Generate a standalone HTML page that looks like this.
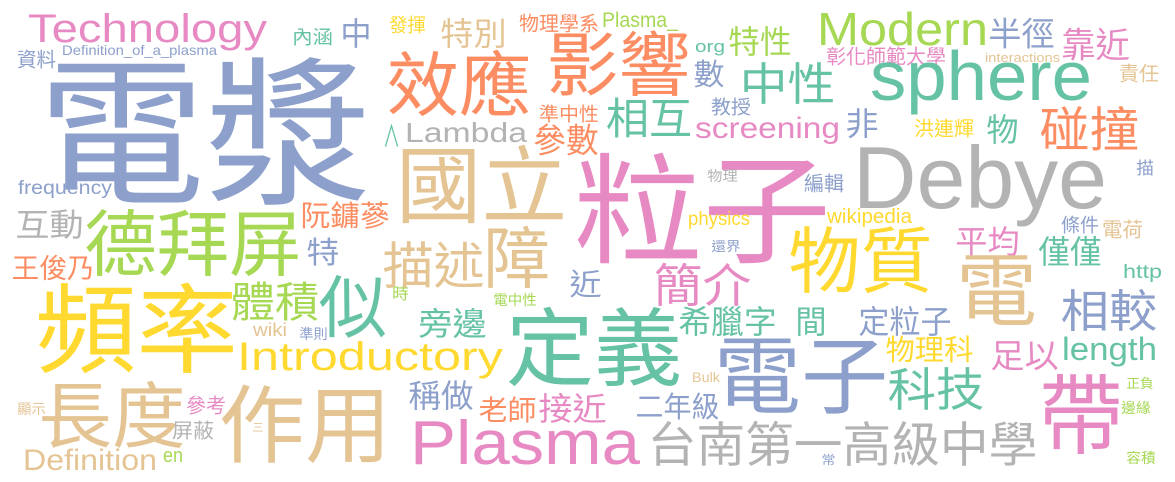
<!DOCTYPE html>
<html><head><meta charset="utf-8">
<style>
html,body{margin:0;padding:0;background:#fff;}
svg{display:block;}
text{font-family:"Liberation Sans","Noto Sans CJK TC",sans-serif;}
</style></head>
<body>
<svg id="cloud" width="1175" height="482" viewBox="0 0 1175 482" xmlns="http://www.w3.org/2000/svg">
<rect width="1175" height="482" fill="#ffffff"/>
</svg>
<script>
// word data: text, weight (font size), color group
const cjkWords = ["電漿","粒子","國立","效應","影響","中性","特性","數","相互","教授","準中性","參數","非","洪連輝","物","碰撞","描","半徑","靠近","彰化師範大學","責任","內涵","中","發揮","特別","物理學系","資料","互動","德拜屏","阮鏞蔘","特","王俊乃","頻率","體積","似","時","描述","障","近","電中性","物理","還界","簡介","編輯","條件","電荷","物質","平均","僅僅","電","相較","旁邊","準則","定義","希臘字","間","定粒子","物理科","足以","電子","科技","稱做","老師","接近","二年級","帶","正負","邊緣","容積","長度","參考","顯示","屏蔽","作用","三","台南第一高級中學","常"];
const cjkWeights = [160,120,84,70,70,45,32,30,43,19,19,34,32,20,32,48,17,33,35,20,20,19,32,19,32,20,20,32,72,29,30,27,97,42,68,16,50,67,30,14,14,13,46,20,19,20,72,32,32,80,45,32,14,85,32,32,32,29,33,85,46,32,28,32,29,88,13,14,14,72,20,14,20,85,11,48,12];
const cjkColors = ["B","P","T","O","O","C","G","B","C","B","O","O","B","Y","C","O","B","B","P","P","T","C","B","Y","T","O","B","R","G","O","B","O","Y","G","C","G","T","T","B","G","R","B","P","B","B","T","Y","P","C","T","B","C","B","C","C","C","B","Y","P","B","C","B","O","P","B","P","G","G","G","T","P","T","R","T","T","R","B"];
// layout (glyph box left, right, bottom) produced by the cloud layout
const cjkLeft = [46,580,400,390,550,742,730,695,608,712,540,535,847,915,988,1042,1137,990,1063,827,1120,293,342,390,442,520,18,17,88,302,308,13,40,233,322,393,385,487,571,494,708,712,656,805,1062,1103,792,957,1040,960,1063,420,300,510,680,797,860,887,992,718,890,410,480,540,637,1043,1127,1122,1127,42,187,18,173,223,253,650,822];
const cjkRight = [364,825,563,528,687,833,790,723,690,750,598,597,877,973,1017,1137,1153,1053,1128,945,1158,332,370,425,505,598,55,82,298,388,338,93,233,317,383,408,482,547,600,536,737,740,749,843,1098,1142,929,1018,1100,1033,1155,485,327,678,775,825,950,972,1057,884,982,472,535,605,718,1119,1153,1150,1155,182,225,45,213,387,263,1035,835];
const cjkBottom = [203,262,222,115,95,103,55,87,137,115,122,155,137,137,143,150,175,48,60,65,82,45,47,33,47,32,68,238,275,228,265,280,372,320,337,300,287,287,297,306,182,252,305,192,233,238,292,255,265,325,330,337,340,385,335,335,335,362,370,413,409,409,422,422,419,453,389,414,464,447,414,415,439,462,432,465,465];

const latinWords = ["Technology","Definition_of_a_plasma","Plasma_","org","Modern","interactions","sphere","Lambda","∧","screening","frequency","Debye","wikipedia","physics","http","wiki","Introductory","length","Bulk","Definition","en","Plasma"];
const latinWeights = [40,14,21,17,46,13,70,28,30,30,19,88,20,19,19,18,40,32,14,30,20,62];
const latinColors = ["P","B","G","C","G","T","C","R","C","P","B","R","Y","Y","C","T","Y","C","T","T","G","P"];
const latinLeft = [28,62,602,695,817,985,870,405,383,695,18,853,827,688,1123,253,237,1062,692,23,163,410];
const latinRight = [267,217,678,725,988,1060,1092,527,400,840,112,1107,912,750,1162,287,503,1157,720,157,183,640];
const latinBaseline = [42,55,27,52,45,62,100,142,147,138,194,208,223,225,278,336,370,360,382,470,462,464];

const palette = {C:"#66c2a5",O:"#fc8d62",B:"#8da0cb",P:"#e78ac3",G:"#a6d854",Y:"#ffd92f",T:"#e5c494",R:"#b3b3b3"};
const svg = document.getElementById('cloud');
const NS = "http://www.w3.org/2000/svg";

function slug(s, i){ return 'word-' + i; }

for (let i = 0; i < cjkWords.length; i++) {
  const s = cjkWeights[i];
  const el = document.createElementNS(NS, 'text');
  
  
  el.setAttribute('x', (cjkLeft[i] - 0.05 * s).toFixed(1));
  el.setAttribute('y', (cjkBottom[i] - 0.07 * s).toFixed(1));
  el.setAttribute('font-size', s);
  el.setAttribute('fill', palette[cjkColors[i]]);
  el.setAttribute('textLength', (cjkRight[i] - cjkLeft[i] + 0.1 * s).toFixed(1));
  el.setAttribute('lengthAdjust', 'spacingAndGlyphs');
  el.textContent = cjkWords[i];
  svg.appendChild(el);
}
for (let i = 0; i < latinWords.length; i++) {
  const s = latinWeights[i];
  const el = document.createElementNS(NS, 'text');
  
  
  el.setAttribute('x', latinLeft[i]);
  el.setAttribute('y', latinBaseline[i]);
  el.setAttribute('font-size', s);
  el.setAttribute('fill', palette[latinColors[i]]);
  el.setAttribute('textLength', latinRight[i] - latinLeft[i]);
  el.setAttribute('lengthAdjust', 'spacingAndGlyphs');
  el.textContent = latinWords[i];
  svg.appendChild(el);
}
</script>
</body></html>
